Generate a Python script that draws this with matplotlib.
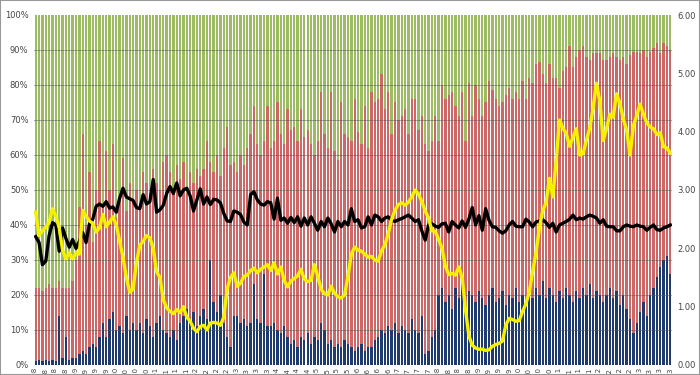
import numpy as np
import matplotlib.pyplot as plt

# monthly shares (percent), 190 bars
blue = [1, 1.5, 1, 1.5, 1, 1.5, 1, 14, 2, 8,
        1.5, 2, 2, 3, 4, 3, 5, 6, 5, 8,
        12, 8, 13, 15, 10, 11, 9, 14, 10, 12,
        10, 12, 9, 13, 11, 8, 12, 14, 10, 9,
        8, 10, 7, 12, 14, 16, 13, 15, 11, 14,
        16, 13, 30, 18, 15, 20, 12, 8, 5, 14,
        14, 12, 13, 11, 12, 23, 13, 12, 26, 11,
        11, 12, 10, 9, 11, 8, 6, 7, 5, 8,
        7, 9, 6, 8, 7, 12, 10, 6, 7, 5,
        6, 5, 7, 6, 5, 4, 5, 6, 4, 5,
        5, 7, 8, 10, 9, 11, 10, 12, 9, 11,
        10, 9, 13, 10, 9, 14, 3, 4, 8, 10,
        20, 22, 18, 20, 16, 22, 19, 24, 17, 21,
        20, 18, 21, 19, 17, 20, 22, 18, 19, 21,
        17, 20, 19, 22, 18, 20, 17, 21, 19, 22,
        20, 24, 19, 22, 20, 18, 21, 19, 22, 20,
        18, 21, 19, 22, 20, 23, 19, 21, 20, 18,
        20, 22, 19, 21, 17, 20, 16, 13, 9, 12,
        15, 18, 14, 20, 22, 25, 28, 30, 31, 26]

# blue + red (top of the red segment)
red_top = [22, 22, 21, 22, 23, 22, 22, 24, 22, 22,
           22, 24, 30, 45, 66, 40, 55, 35, 50, 64,
           45, 61, 50, 63, 42, 48, 59, 44, 52, 47,
           50, 46, 55, 52, 48, 56, 52, 50, 58, 60,
           55, 50, 57, 53, 58, 49, 55, 52, 56, 54,
           56, 64, 58, 55, 60, 54, 62, 68, 57, 58,
           55, 60, 57, 62, 66, 74, 63, 60, 64, 74,
           62, 64, 75, 66, 63, 73, 67, 68, 64, 73,
           65, 67, 63, 60, 64, 78, 66, 62, 78, 61,
           58.6, 75, 66, 65, 64, 76, 66.5, 63, 74, 62,
           78, 75, 76, 83, 73, 78, 66, 75, 70, 71,
           73, 66, 76, 76, 67, 71, 63, 61, 64, 71,
           64, 80, 76, 77, 78, 74, 71, 78, 64, 80.6,
           71, 80, 76, 71, 75, 81, 78.6, 76, 74, 75,
           77, 79, 76, 78, 76, 81, 76, 82, 80.6, 86,
           86.6, 83, 80.6, 86, 82, 82, 79, 84, 85, 91,
           85, 88, 90, 91, 88, 87, 89, 89, 89, 87,
           87, 88, 89, 88, 87, 88, 86, 88.6, 89.4, 89.4,
           89, 90, 88, 89.4, 90.6, 92, 89, 92, 91, 90]

yellow = [2.62, 2.22, 2.3, 2.36, 2.45, 2.68, 2.55, 2.35, 1.97, 1.82,
          1.92, 1.82, 1.92, 1.9, 2.65, 2.55, 2.47, 2.43, 2.28, 2.35,
          2.58, 2.37, 2.45, 2.54, 2.4, 2.12, 1.85, 1.5, 1.25, 1.3,
          1.75, 2.05, 2.12, 2.22, 2.18, 2.0, 1.6, 1.5, 1.12, 0.98,
          0.92, 0.88, 0.95, 0.9, 1.0, 0.82, 0.75, 0.63, 0.57, 0.66,
          0.68, 0.6, 0.72, 0.73, 0.72, 0.68, 0.82, 1.3, 1.5, 1.58,
          1.35, 1.4, 1.52, 1.54, 1.62, 1.66, 1.58, 1.64, 1.68, 1.72,
          1.62, 1.75, 1.56, 1.68, 1.45, 1.34, 1.44, 1.48, 1.53, 1.64,
          1.47, 1.43, 1.45, 1.72, 1.52, 1.3, 1.22, 1.2, 1.35, 1.23,
          1.17, 1.15, 1.2, 1.52, 1.9, 2.02, 1.97, 1.95, 1.9, 1.85,
          1.86, 1.8, 1.78, 1.96, 2.06, 2.25, 2.5, 2.65, 2.75, 2.78,
          2.74, 2.79, 2.88, 3.0, 2.93, 2.8, 2.64, 2.52, 2.3, 2.29,
          2.15, 2.0, 1.7, 1.55, 1.57, 1.54, 1.68, 1.5, 0.95, 0.5,
          0.34, 0.29, 0.27, 0.27, 0.25, 0.26, 0.32, 0.35, 0.37, 0.41,
          0.68, 0.8, 0.78, 0.75, 0.76, 0.92, 1.05, 1.25, 1.6, 1.92,
          2.35, 2.65, 2.78, 3.2, 2.88, 3.5, 4.2, 4.06, 3.97, 3.75,
          3.9, 4.05, 3.6, 3.62, 3.85, 4.06, 4.4, 4.83, 4.52, 3.85,
          4.05, 4.3, 4.25, 4.65, 4.48, 4.22, 4.02, 3.6, 4.1, 4.28,
          4.47, 4.3, 4.15, 4.08, 4.05, 3.95, 3.98, 3.74, 3.72, 3.63]

black = [2.2, 2.1, 1.72, 1.78, 2.22, 2.44, 2.4, 1.95, 2.35, 2.17,
         2.02, 2.15, 2.0, 2.12, 2.27, 2.1, 2.42, 2.5, 2.72, 2.76,
         2.72, 2.8, 2.69, 2.71, 2.62, 2.86, 3.03, 2.88, 2.85, 2.82,
         2.7, 2.68, 2.92, 2.76, 2.8, 3.18, 2.62, 2.66, 2.74, 2.94,
         3.06, 2.94, 3.12, 2.9, 3.0, 3.03, 2.9, 2.64, 2.83, 3.02,
         2.76, 2.88, 2.75, 2.84, 2.83, 2.78, 2.6, 2.47, 2.46, 2.64,
         2.62, 2.58, 2.45, 2.4, 2.92, 2.97, 2.83, 2.76, 2.74, 2.8,
         2.78, 2.5, 2.86, 2.48, 2.52, 2.43, 2.53, 2.44, 2.54, 2.38,
         2.52, 2.4, 2.54, 2.43, 2.31, 2.46, 2.37, 2.52, 2.42, 2.28,
         2.46, 2.37, 2.46, 2.4, 2.68, 2.46, 2.49, 2.35, 2.37, 2.54,
         2.4, 2.57, 2.54, 2.46, 2.52, 2.54, 2.48, 2.46, 2.49, 2.51,
         2.54, 2.57, 2.52, 2.46, 2.49, 2.3, 2.14, 2.4, 2.42, 2.38,
         2.36, 2.42, 2.43, 2.28, 2.46, 2.4, 2.35, 2.47, 2.36, 2.5,
         2.7, 2.4, 2.56, 2.31, 2.68, 2.48, 2.37, 2.36, 2.3, 2.26,
         2.3, 2.4, 2.46, 2.38, 2.37, 2.37, 2.5, 2.45, 2.37, 2.45,
         2.47, 2.49, 2.44, 2.36, 2.43, 2.28, 2.4, 2.43, 2.46, 2.5,
         2.57, 2.49, 2.52, 2.5, 2.54, 2.57, 2.55, 2.52, 2.43, 2.49,
         2.38, 2.37, 2.37, 2.3, 2.3, 2.37, 2.4, 2.38, 2.37, 2.4,
         2.38, 2.37, 2.31, 2.36, 2.4, 2.32, 2.31, 2.35, 2.37, 2.4]

months = ['Jan', 'Feb', 'Mar', 'Apr', 'May', 'Jun',
          'Jul', 'Aug', 'Sep', 'Oct', 'Nov', 'Dec']
labels = ['%s-%02d' % (months[k % 12], (98 + k // 12) % 100) for k in range(len(blue))]

n = len(blue)
x = np.arange(n)
blue = np.array(blue)
red = np.array(red_top) - blue
green = 100 - np.array(red_top)

fig = plt.figure(figsize=(7, 3.75), dpi=100)
ax = fig.add_axes([0.0486, 0.0267, 0.9114, 0.9333])

w = 0.7
ax.bar(x, blue, w, color='#1f3b6e', zorder=2)
ax.bar(x, red, w, bottom=blue, color='#cd6868', zorder=2)
ax.bar(x, green, w, bottom=blue + red, color='#9cbb62', zorder=2)
ax.set_ylim(0, 100)
ax.set_xlim(-0.5, n - 0.5)
ax.set_yticks(np.arange(0, 101, 10))
ax.set_yticklabels(['%d%%' % v for v in range(0, 101, 10)])
for v in range(10, 100, 10):
    ax.axhline(v, color='#555555', lw=0.6, alpha=0.6, zorder=3)

# every third month labelled, as in the source
step = 3
ax.set_xticks(x[::step])
ax.set_xticklabels(labels[::step], rotation=90, fontsize=5, color='#444444')
ax.tick_params(axis='x', length=0, pad=2)
ax.tick_params(axis='y', length=0, labelsize=6, colors='#444444', pad=4)
for s in ax.spines.values():
    s.set_visible(False)

ax2 = ax.twinx()
ax2.plot(x, black, color='black', lw=2.4, zorder=5)
ax2.plot(x, yellow, color='#f5f000', lw=2.4, zorder=6)
ax2.set_ylim(0, 6)
ax2.set_yticks(np.arange(0, 7, 1))
ax2.set_yticklabels(['%.2f' % v for v in range(7)])
ax2.tick_params(axis='y', length=0, labelsize=6, colors='#444444', pad=4)
for s in ax2.spines.values():
    s.set_visible(False)

fig.patches.append(plt.Rectangle((0, 0), 1, 1, transform=fig.transFigure,
                                 fill=False, edgecolor='#999999', lw=1.5))

fig.savefig('out.png', dpi=100)
